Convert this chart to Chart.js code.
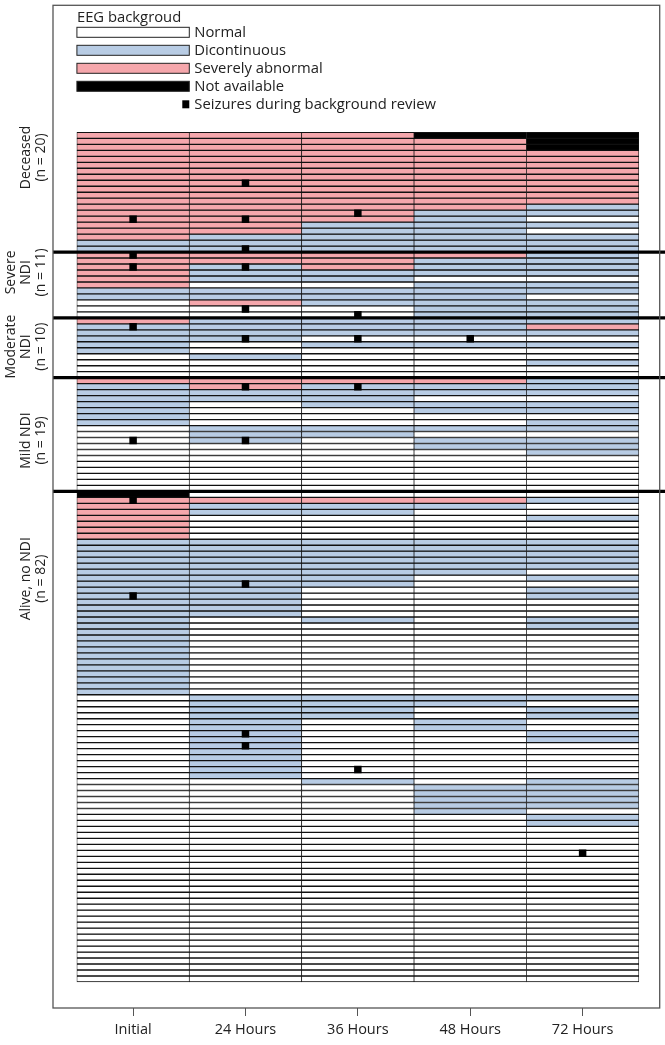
<!DOCTYPE html>
<html>
<head>
<meta charset="utf-8">
<script src="https://cdn.jsdelivr.net/npm/chart.js@4.4.1/dist/chart.umd.min.js"></script>
<style>
  html, body { margin: 0; padding: 0; background: #fff; }
  #wrap { width: 665px; height: 1045px; position: relative; }
</style>
</head>
<body>
<div id="wrap"><canvas id="eegChart"></canvas></div>
<script>
// EEG background per patient (one row each) at every review time point

const timepoints = ["Initial", "24 Hours", "36 Hours", "48 Hours", "72 Hours"];

const groupNames = [
  ["Deceased", "(n = 20)"],
  ["Severe", "NDI", "(n = 11)"],
  ["Moderate", "NDI", "(n = 10)"],
  ["Mild NDI", "(n = 19)"],
  ["Alive, no NDI", "(n = 82)"],
];
const groupSizes = [20, 11, 10, 19, 82];
const groupLabelRows = [4.2, 23.4, 35.8, 51.5, 74.6];

const legendTitle = "EEG backgroud";
const legendLabels = ["Normal", "Dicontinuous", "Severely abnormal", "Not available"];
const legendCodes = ["N", "D", "S", "X"];
const seizureLabel = "Seizures during background review";

// N = normal, D = discontinuous, S = severely abnormal, X = not available
// runs of [code, patients], top row first
const initialRuns = [
  ["S", 18], ["D", 2],
  ["S", 6], ["D", 2], ["N", 3],
  ["S", 1], ["D", 5], ["N", 4],
  ["S", 1], ["D", 7], ["N", 11],
  ["X", 1], ["S", 7], ["D", 26], ["N", 48],
];
const h24Runs = [
  ["S", 17], ["D", 3],
  ["S", 2], ["D", 3], ["N", 1], ["D", 2], ["S", 1], ["N", 2],
  ["D", 4], ["N", 2], ["D", 1], ["N", 3],
  ["S", 2], ["D", 2], ["N", 4], ["D", 3], ["N", 8],
  ["N", 1], ["S", 1], ["D", 2], ["N", 4], ["D", 13], ["N", 13], ["D", 14], ["N", 34],
];
const h36Runs = [
  ["S", 15], ["D", 5],
  ["S", 3], ["D", 2], ["N", 1], ["D", 3], ["N", 2],
  ["D", 3], ["N", 1], ["D", 1], ["N", 5],
  ["S", 1], ["D", 4], ["N", 3], ["D", 2], ["N", 9],
  ["N", 1], ["S", 1], ["D", 2], ["N", 4], ["D", 8], ["N", 5], ["D", 1], ["N", 12],
  ["D", 4], ["N", 10], ["D", 1], ["N", 33],
];
const h48Runs = [
  ["X", 1], ["S", 12], ["D", 7],
  ["S", 1], ["D", 3], ["N", 1], ["D", 6],
  ["D", 3], ["N", 1], ["D", 1], ["N", 5],
  ["S", 1], ["D", 2], ["N", 1], ["D", 2], ["N", 2], ["D", 1], ["N", 1], ["D", 2], ["N", 7],
  ["N", 1], ["S", 1], ["D", 1], ["N", 5], ["D", 6], ["N", 20], ["D", 2], ["N", 2],
  ["D", 2], ["N", 9], ["D", 5], ["N", 28],
];
const h72Runs = [
  ["X", 3], ["S", 9], ["D", 2], ["N", 1], ["D", 1], ["N", 1], ["D", 3],
  ["D", 4], ["N", 1], ["D", 2], ["N", 1], ["D", 3],
  ["D", 1], ["S", 1], ["D", 1], ["N", 1], ["D", 1], ["N", 2], ["D", 1], ["N", 2],
  ["D", 3], ["N", 1], ["D", 2], ["N", 1], ["D", 2], ["N", 1], ["D", 3], ["N", 6],
  ["N", 1], ["D", 1], ["N", 2], ["D", 1], ["N", 3], ["D", 5], ["N", 1], ["D", 1],
  ["N", 1], ["D", 2], ["N", 3], ["D", 2], ["N", 11], ["D", 1], ["N", 1], ["D", 2],
  ["N", 2], ["D", 2], ["N", 6], ["D", 5], ["N", 1], ["D", 2], ["N", 26],
];

// rows (0 = top) with seizures during background review
const seizuresInitial = [14, 20, 22, 32, 51, 61, 77];
const seizures24 = [8, 14, 19, 22, 29, 34, 42, 51, 75, 100, 102];
const seizures36 = [13, 30, 34, 42, 106];
const seizures48 = [34];
const seizures72 = [120];

const codeColors = { N: "#ffffff", D: "#b8cce4", S: "#f5a7ac", X: "#000000" };

function expandRuns(runs) {
  const out = [];
  runs.forEach(([code, n]) => {
    for (let i = 0; i < n; i++) out.push(code);
  });
  return out;
}

const columns = [initialRuns, h24Runs, h36Runs, h48Runs, h72Runs].map(expandRuns);
const nRows = groupSizes.reduce((a, b) => a + b, 0);

const datasets = [];
for (let r = 0; r < nRows; r++) {
  datasets.push({
    type: "bar",
    data: timepoints.map((_, c) => ({ x: c, y: [r, r + 1] })),
    backgroundColor: columns.map((col) => codeColors[col[r]]),
    borderColor: "#111",
    borderWidth: { top: 1, bottom: 1, left: 0.7, right: 0.7 },
    borderSkipped: false,
    grouped: false,
    barPercentage: 1,
    categoryPercentage: 1,
    order: 1,
  });
}

const seizurePoints = [];
[seizuresInitial, seizures24, seizures36, seizures48, seizures72].forEach((rows, c) => {
  rows.forEach((r) => seizurePoints.push({ x: c, y: r + 0.5 }));
});
datasets.push({
  type: "scatter",
  data: seizurePoints,
  pointStyle: "rect",
  pointRadius: 5.3,
  backgroundColor: "#000",
  borderWidth: 0,
  order: 0,
});

const decorPlugin = {
  id: "decor",
  afterDatasetsDraw(chart) {
    const { ctx, chartArea, scales } = chart;
    const x = scales.x;
    const y = scales.y;
    ctx.save();

    // group separators
    ctx.strokeStyle = "#000";
    ctx.lineWidth = 3.2;
    let acc = 0;
    groupSizes.slice(0, -1).forEach((n) => {
      acc += n;
      const py = y.getPixelForValue(acc);
      ctx.beginPath();
      ctx.moveTo(chartArea.left, py);
      ctx.lineTo(chart.width, py);
      ctx.stroke();
    });

    // outer frame
    ctx.strokeStyle = "#555";
    ctx.lineWidth = 1.3;
    ctx.strokeRect(chartArea.left, chartArea.top, chartArea.right - chartArea.left, chartArea.bottom - chartArea.top);

    // legend
    const lx0 = x.getPixelForValue(-0.5);
    const lx1 = x.getPixelForValue(0.5);
    const top = chartArea.top;
    ctx.fillStyle = "#222";
    ctx.font = '14.8px "Open Sans"';
    ctx.textBaseline = "middle";
    ctx.textAlign = "left";
    ctx.fillText(legendTitle, lx0, top + 12);
    legendLabels.forEach((label, i) => {
      const yc = top + 27 + i * 18;
      ctx.fillStyle = codeColors[legendCodes[i]];
      ctx.fillRect(lx0, yc - 5, lx1 - lx0, 10);
      ctx.strokeStyle = "#222";
      ctx.lineWidth = 1;
      ctx.strokeRect(lx0, yc - 5, lx1 - lx0, 10);
      ctx.fillStyle = "#222";
      ctx.fillText(label, lx1 + 5, yc);
    });
    const sy = top + 99;
    ctx.fillStyle = "#000";
    ctx.fillRect(lx1 - 7, sy - 4, 7, 8);
    ctx.fillStyle = "#222";
    ctx.fillText(seizureLabel, lx1 + 5, sy);

    // group labels, rotated
    ctx.font = '14px "Open Sans"';
    ctx.textAlign = "center";
    groupNames.forEach((lines, g) => {
      const py = y.getPixelForValue(groupLabelRows[g]);
      lines.forEach((line, i) => {
        const px = chartArea.left - 12 - (lines.length - 1 - i) * 15;
        ctx.save();
        ctx.translate(px, py);
        ctx.rotate(-Math.PI / 2);
        ctx.fillText(line, 0, 0);
        ctx.restore();
      });
    });

    ctx.restore();
  },
};

new Chart(document.getElementById("eegChart"), {
  type: "bar",
  data: { datasets: datasets },
  options: {
    responsive: true,
    maintainAspectRatio: false,
    animation: false,
    layout: { padding: { top: 5, left: 53, right: 3, bottom: 0 } },
    plugins: {
      legend: { display: false },
      tooltip: { enabled: false },
    },
    scales: {
      x: {
        type: "linear",
        offset: false,
        min: -0.7128,
        max: 4.686,
        afterBuildTicks: (scale) => {
          scale.ticks = timepoints.map((_, i) => ({ value: i }));
        },
        afterFit: (scale) => {
          scale.height = 37;
        },
        ticks: {
          autoSkip: false,
          maxRotation: 0,
          padding: 5,
          color: "#222",
          font: { family: "Open Sans", size: 14.5 },
          callback: (value) => timepoints[value],
        },
        grid: { offset: false, drawOnChartArea: false, drawTicks: true, tickLength: 8, color: "#555" },
        border: { display: false },
      },
      y: {
        type: "linear",
        display: false,
        reverse: true,
        min: -21.24,
        max: 146.35,
      },
    },
  },
  plugins: [decorPlugin],
});
</script>
</body>
</html>
